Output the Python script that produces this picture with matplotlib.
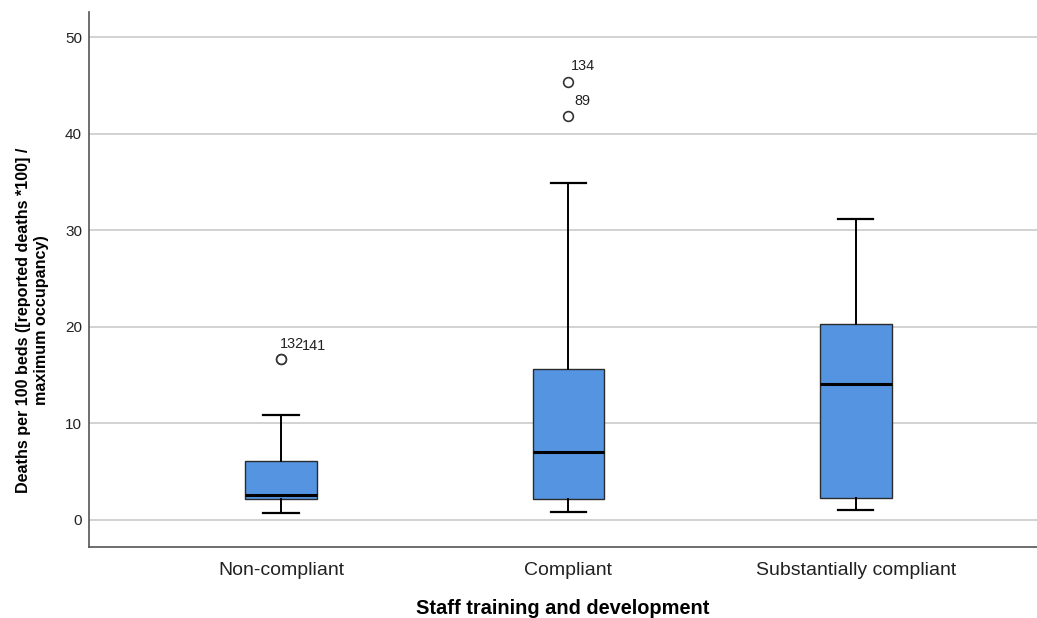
import matplotlib
matplotlib.use("Agg")
import matplotlib.pyplot as plt

# values
categories = ["Non-compliant", "Compliant", "Substantially compliant"]
whisker_low = [0.73, 0.83, 1.03]
quartile_1 = [2.18, 2.17, 2.31]
medians = [2.62, 7.0, 14.03]
quartile_3 = [6.15, 15.58, 20.26]
whisker_high = [10.85, 34.9, 31.16]
outliers = [[16.65, 16.65], [45.3, 41.8], []]
outlier_ids = [["132", "141"], ["134", "89"], []]

y_ticks = [0, 10, 20, 30, 40, 50]

plt.rcParams["font.family"] = ["Liberation Sans", "DejaVu Sans"]


def main():
    fig = plt.figure(figsize=(10.37, 6.18), dpi=100)
    ax = fig.add_axes([0.0858, 0.1149, 0.9142, 0.8657])

    stats = []
    for i, name in enumerate(categories):
        stats.append({
            "label": name,
            "whislo": whisker_low[i],
            "q1": quartile_1[i],
            "med": medians[i],
            "q3": quartile_3[i],
            "whishi": whisker_high[i],
            "fliers": outliers[i],
        })

    positions = list(range(len(categories)))
    ax.bxp(stats, positions=positions, widths=0.25, patch_artist=True,
           capwidths=0.122,
           boxprops=dict(facecolor="#5594e1", edgecolor="#2b2b2b", linewidth=1.0),
           medianprops=dict(color="black", linewidth=2.2),
           whiskerprops=dict(color="black", linewidth=1.4),
           capprops=dict(color="black", linewidth=1.6),
           flierprops=dict(marker="o", markerfacecolor="white",
                           markeredgecolor="#333333", markersize=7,
                           markeredgewidth=1.2))

    # case labels next to the outliers (offsets in points)
    label_offsets = {
        "132": (-0.7, 6.2), "141": (15.3, 4.3),
        "134": (2.0, 6.8), "89": (4.1, 6.0),
    }
    for i, ids in enumerate(outlier_ids):
        for value, case in zip(outliers[i], ids):
            dx, dy = label_offsets[case]
            ax.annotate(case, xy=(positions[i], value), xytext=(dx, dy),
                        textcoords="offset points", fontsize=10.4,
                        ha="left", va="bottom", color="#222222")

    ax.set_xlim(-0.668, 2.63)
    ax.set_ylim(-2.8, 52.6)
    ax.set_yticks(y_ticks)
    ax.set_xticks(positions)
    ax.set_xticklabels(categories, fontsize=14, color="#222222")
    ax.tick_params(axis="y", length=0, labelsize=11, pad=5, colors="#222222")
    ax.tick_params(axis="x", length=0, pad=11)
    ax.yaxis.grid(True, color="#cfcfcf", linewidth=1.3)
    ax.set_axisbelow(True)

    for side in ["top", "right"]:
        ax.spines[side].set_visible(False)
    for side in ["left", "bottom"]:
        ax.spines[side].set_color("#555555")
        ax.spines[side].set_linewidth(1.2)

    ax.set_xlabel("Staff training and development", fontsize=14.4,
                  fontweight="bold", labelpad=14)
    ax.set_ylabel("Deaths per 100 beds ([reported deaths *100] /\nmaximum occupancy)",
                  fontsize=11.6, fontweight="bold", linespacing=1.25, va="center")
    ax.yaxis.set_label_coords(-0.060, 0.424)

    fig.savefig("out.png", dpi=100, facecolor="white")


if __name__ == "__main__":
    main()
